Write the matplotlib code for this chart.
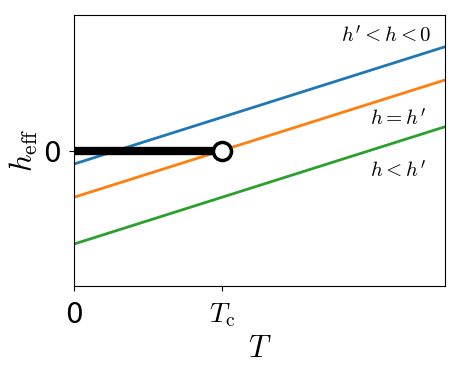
import matplotlib
matplotlib.use("Agg")
import matplotlib.pyplot as plt
import numpy as np

plt.rcParams['mathtext.fontset'] = 'cm'

# data (arbitrary units, T_c = 1)
T = np.array([0.0, 2.5])
h_blue = np.array([-0.10, 0.765])
h_orange = np.array([-0.345, 0.52])
h_green = np.array([-0.69, 0.175])
Tc = 1.0

labels = [r"$h' < h < 0$", r"$h = h'$", r"$h < h'$"]
label_pos = [(2.41, 0.845), (2.37, 0.232), (2.37, -0.15)]

fig = plt.figure(figsize=(4.62, 3.73), dpi=100)
ax = fig.add_axes([0.160, 0.233, 0.803, 0.727])

ax.plot(T, h_blue, color='C0', lw=2)
ax.plot(T, h_orange, color='C1', lw=2)
ax.plot(T, h_green, color='C2', lw=2)

# ordered phase: h_eff pinned at zero below Tc
ax.plot([0, Tc], [0, 0], color='k', lw=6, solid_capstyle='butt', zorder=3)
ax.plot([Tc], [0], 'o', ms=13, mfc='white', mec='k', mew=2.5, zorder=4)

for txt, (x, y) in zip(labels, label_pos):
    ax.text(x, y, txt, ha='right', va='center', fontsize=15)

ax.set_xlim(0, 2.5)
ax.set_ylim(-1, 1)
ax.set_xticks([0, Tc])
ax.set_xticklabels(['0', r'$T_{\rm c}$'], fontsize=20)
ax.set_yticks([0])
ax.set_yticklabels(['0'], fontsize=20)
ax.tick_params(axis='x', pad=7)
ax.tick_params(axis='y', pad=6)
ax.set_xlabel(r'$T$', fontsize=22, labelpad=4)
ax.set_ylabel(r'$h_{\rm eff}$', fontsize=22, labelpad=2)

fig.savefig('out.png', dpi=100)
